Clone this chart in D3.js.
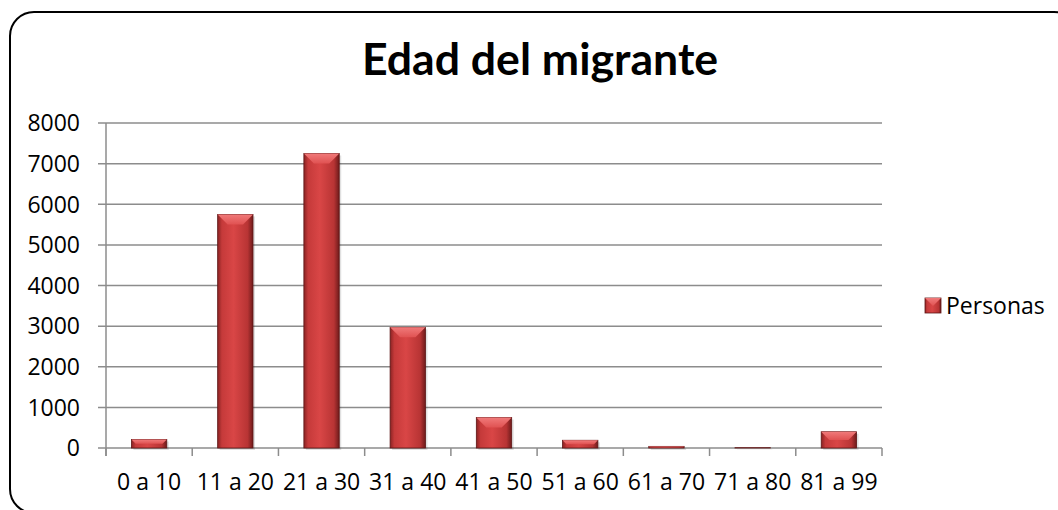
<!DOCTYPE html>
<html>
<head>
<meta charset="utf-8">
<script src="https://cdn.jsdelivr.net/npm/d3@7"></script>
<style>
  html, body { margin: 0; padding: 0; background: #fff; }
  svg { display: block; font-family: "Open Sans", "Noto Sans", sans-serif; }
</style>
</head>
<body>
<div id="chart"></div>
<script>
var width = 1058;
var height = 510;

// data
var categories = ["0 a 10", "11 a 20", "21 a 30", "31 a 40", "41 a 50", "51 a 60", "61 a 70", "71 a 80", "81 a 99"];
var personas = [210, 5750, 7250, 2970, 750, 190, 40, 8, 400];
var yTicks = [0, 1000, 2000, 3000, 4000, 5000, 6000, 7000, 8000];
var seriesName = "Personas";
var chartTitle = "Edad del migrante";

var plot = { left: 106, right: 882, top: 123, bottom: 448 };

var svg = d3.select("#chart")
    .append("svg")
    .attr("width", width)
    .attr("height", height);

var defs = svg.append("defs");

// bar body: dark edges, lighter middle
var grad = defs.append("linearGradient")
    .attr("id", "barGrad")
    .attr("x1", "0%").attr("x2", "100%")
    .attr("y1", "0%").attr("y2", "0%");
grad.append("stop").attr("offset", "0%").attr("stop-color", "#8a2323");
grad.append("stop").attr("offset", "12%").attr("stop-color", "#c53a3a");
grad.append("stop").attr("offset", "45%").attr("stop-color", "#d94646");
grad.append("stop").attr("offset", "85%").attr("stop-color", "#b83434");
grad.append("stop").attr("offset", "100%").attr("stop-color", "#6e1b1b");

var topGrad = defs.append("linearGradient")
    .attr("id", "topGrad")
    .attr("x1", "0%").attr("x2", "0%")
    .attr("y1", "0%").attr("y2", "100%");
topGrad.append("stop").attr("offset", "0%").attr("stop-color", "#f07a7a");
topGrad.append("stop").attr("offset", "100%").attr("stop-color", "#e05252");

// chart border (bottom and right edges fall just outside the picture)
svg.append("rect")
    .attr("x", 10)
    .attr("y", 12)
    .attr("width", 1068)
    .attr("height", 501)
    .attr("rx", 24)
    .attr("ry", 24)
    .style("fill", "#fff")
    .style("stroke", "#000")
    .style("stroke-width", 2);

var x = d3.scaleBand()
    .domain(categories)
    .range([plot.left, plot.right])
    .padding(0);

var y = d3.scaleLinear()
    .domain([0, 8000])
    .range([plot.bottom, plot.top]);

var barW = x.bandwidth() * 0.41;

// gridlines
svg.append("g")
    .selectAll("line")
    .data(yTicks)
    .enter()
    .append("line")
        .attr("x1", plot.left - 8)
        .attr("x2", plot.right)
        .attr("y1", d => y(d))
        .attr("y2", d => y(d))
        .style("stroke", "#8c8c8c")
        .style("stroke-width", 1.5);

// y axis line
svg.append("line")
    .attr("x1", plot.left).attr("x2", plot.left)
    .attr("y1", plot.top).attr("y2", plot.bottom + 8)
    .style("stroke", "#8c8c8c")
    .style("stroke-width", 1.5);

// y labels
svg.append("g")
    .selectAll("text")
    .data(yTicks)
    .enter()
    .append("text")
        .attr("x", 80)
        .attr("y", d => y(d))
        .attr("dy", "0.36em")
        .attr("text-anchor", "end")
        .style("font-size", "23px")
        .style("fill", "#000")
        .text(d => d);

// x tick marks on category boundaries
var bounds = categories.map(c => x(c)).concat([plot.right]);
svg.append("g")
    .selectAll("line")
    .data(bounds)
    .enter()
    .append("line")
        .attr("x1", d => d).attr("x2", d => d)
        .attr("y1", plot.bottom).attr("y2", plot.bottom + 8)
        .style("stroke", "#8c8c8c")
        .style("stroke-width", 1.5);

// bars
var bars = svg.append("g")
    .selectAll("g")
    .data(categories.map((c, i) => ({ cat: c, v: personas[i] })))
    .enter()
    .append("g");

bars.append("rect")
    .attr("x", d => x(d.cat) + (x.bandwidth() - barW) / 2 + 2)
    .attr("y", d => y(d.v) + 2)
    .attr("width", barW)
    .attr("height", d => plot.bottom - y(d.v))
    .style("fill", "#000")
    .style("opacity", 0.12);

bars.append("rect")
    .attr("x", d => x(d.cat) + (x.bandwidth() - barW) / 2)
    .attr("y", d => y(d.v))
    .attr("width", barW)
    .attr("height", d => plot.bottom - y(d.v))
    .style("fill", "url(#barGrad)")
    .style("stroke", "#5e1616")
    .style("stroke-width", 0.8);

// top bevel
bars.append("path")
    .attr("d", function(d) {
        var x0 = x(d.cat) + (x.bandwidth() - barW) / 2;
        var x1 = x0 + barW;
        var t = y(d.v);
        var h = plot.bottom - t;
        var b = Math.min(10, h / 2);
        return "M" + x0 + "," + t + "L" + x1 + "," + t +
            "L" + (x1 - b) + "," + (t + b) + "L" + (x0 + b) + "," + (t + b) + "Z";
    })
    .style("fill", "url(#topGrad)");

// x labels
svg.append("g")
    .selectAll("text")
    .data(categories)
    .enter()
    .append("text")
        .attr("x", d => x(d) + x.bandwidth() / 2)
        .attr("y", 490)
        .attr("text-anchor", "middle")
        .style("font-size", "23px")
        .style("fill", "#000")
        .text(d => d);

// title, sized to the width it has in the picture
var title = svg.append("text")
    .attr("x", 540)
    .attr("y", 75)
    .attr("text-anchor", "middle")
    .style("font-family", "Lato, 'Open Sans', sans-serif")
    .style("font-size", "40px")
    .style("font-weight", "bold")
    .style("fill", "#000")
    .text(chartTitle);
var tw = title.node().getComputedTextLength();
title.style("font-size", (40 * 356 / tw).toFixed(1) + "px");

// legend
var legend = svg.append("g").attr("transform", "translate(925,298)");
legend.append("rect")
    .attr("width", 16).attr("height", 15)
    .style("fill", "url(#barGrad)")
    .style("stroke", "#5e1616")
    .style("stroke-width", 0.8);
legend.append("path")
    .attr("d", "M0,0L16,0L8,8Z")
    .style("fill", "url(#topGrad)");
legend.append("text")
    .attr("x", 21)
    .attr("y", 7.5)
    .attr("dy", "0.36em")
    .style("font-size", "23px")
    .style("fill", "#000")
    .text(seriesName);
</script>
</body>
</html>
